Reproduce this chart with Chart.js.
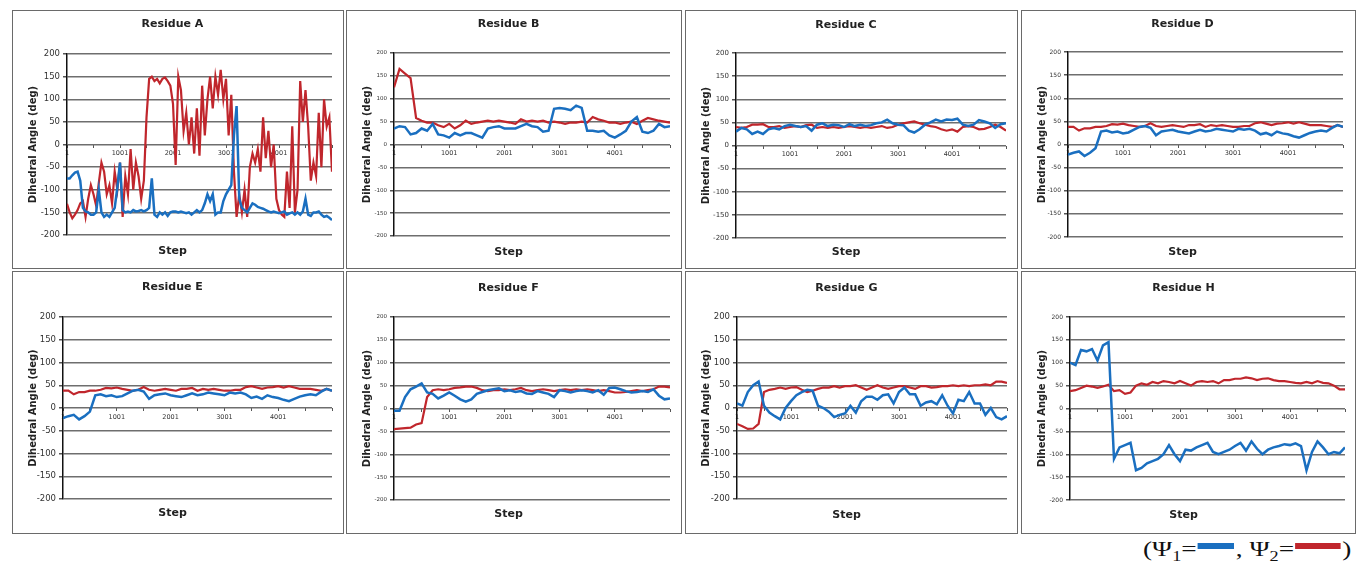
<!DOCTYPE html>
<html>
<head>
<meta charset="utf-8">
<title>Dihedral angles per residue</title>
<script src="https://cdn.jsdelivr.net/npm/chart.js@4.4.0/dist/chart.umd.min.js"></script>
<style>
    body {
        margin: 0;
        width: 1356px;
        height: 564px;
        position: relative;
        overflow: hidden;
        background: #fff;
        font-family: 'DejaVu Sans', sans-serif;
    }
    .panel {
        position: absolute;
        border: 1px solid #6a6a6a;
        background: #fff;
    }
    .panel canvas { display: block; }
    #key {
        position: absolute;
        left: 1143px;
        top: 537px;
        font-family: 'Liberation Serif', serif;
        font-size: 21px;
        line-height: 24px;
        color: #111;
        white-space: nowrap;
        transform: scaleX(1.3);
        transform-origin: left top;
    }
    #key sub { font-size: 14px; }
    .swatch {
        display: inline-block;
        height: 6px;
        position: relative;
        top: -7px;
        margin: 0 1px;
    }
</style>
</head>
<body>
<div id="key">(Ψ<sub>1</sub>=<span class="swatch" style="background:#1a6fc0;width:28px"></span>, Ψ<sub>2</sub>=<span class="swatch" style="background:#c0262c;width:35px"></span>)</div>

<script>
const psi1A = [-75, -75, -68, -62, -60, -80, -140, -148, -150, -155, -155, -150, -100, -150, -160, -155, -160, -150, -140, -95,
    -40, -145, -150, -148, -150, -145, -148, -147, -145, -148, -145, -140, -75, -155, -160, -150, -155, -150, -158, -150,
    -148, -148, -150, -148, -150, -152, -150, -155, -150, -145, -150, -145, -130, -110, -125, -110, -155, -150, -150, -125,
    -110, -100, -90, 20, 85, -120, -140, -145, -150, -140, -130, -133, -138, -140, -142, -145, -148, -150, -148, -150,
    -152, -150, -148, -155, -152, -150, -155, -150, -155, -148, -120, -155, -158, -150, -150, -148, -155, -160, -158, -162, -167];
const psi2A = [-131, -150, -163, -155, -145, -130, -125, -160, -120, -90, -110, -135, -85, -40, -60, -110, -90, -130, -60, -100,
    -40, -160, -70, -110, -10, -100, -40, -70, -120, -80, 60, 145, 150, 140, 145, 135, 145, 148, 140, 130,
    90, -45, 150, 120, 30, 70, 0, 60, -20, 80, -25, 130, 20, 100, 150, 80, 150, 110, 165, 100,
    145, 20, 110, -60, -160, -110, -150, -100, -160, -50, -20, -40, -10, -60, 60, -30, 30, -50, 0, -120,
    -145, -155, -160, -60, -140, 40, -150, -100, 140, 50, 120, 40, -80, -40, -70, 70, -50, 100, 40, 60, -60];

const psi1B = [35, 40, 38, 22, 25, 35, 30, 45, 22, 20, 15, 25, 20, 25, 25, 20, 15, 35, 38, 40,
    35, 35, 35, 40, 45, 40, 38, 28, 30, 78, 80, 78, 75, 85, 80, 30, 30, 28, 30, 20,
    15, 22, 30, 50, 60, 28, 25, 30, 45, 38, 40];
const psi2B = [125, 165, 155, 145, 58, 52, 48, 48, 42, 38, 45, 35, 42, 52, 45, 48, 50, 52, 50, 52,
    50, 48, 45, 55, 50, 52, 50, 52, 48, 50, 48, 45, 48, 48, 50, 48, 60, 55, 52, 48,
    48, 45, 48, 50, 45, 52, 58, 55, 52, 50, 48];

const psi1C = [30, 38, 35, 25, 30, 25, 35, 38, 35, 42, 45, 42, 40, 42, 32, 45, 48, 42, 45, 44,
    40, 46, 42, 45, 42, 44, 48, 50, 56, 48, 45, 44, 32, 28, 35, 45, 50, 56, 52, 56,
    55, 58, 45, 42, 45, 55, 52, 48, 38, 46, 48];
const psi2C = [40, 38, 40, 45, 45, 46, 40, 40, 42, 38, 40, 42, 40, 44, 45, 38, 40, 38, 40, 38,
    40, 42, 40, 38, 40, 38, 40, 42, 38, 40, 45, 48, 50, 52, 48, 45, 42, 40, 35, 32,
    35, 30, 40, 42, 40, 35, 36, 40, 45, 40, 32];

const psi1D = [-22, -18, -15, -25, -18, -8, 28, 30, 26, 28, 24, 26, 32, 38, 40, 36, 20, 28, 30, 32,
    28, 26, 24, 28, 32, 28, 30, 34, 32, 30, 28, 34, 32, 34, 30, 22, 25, 20, 28, 24,
    22, 18, 15, 20, 25, 28, 30, 28, 36, 42, 38];
const psi2D = [38, 38, 30, 35, 35, 38, 38, 40, 44, 43, 45, 42, 40, 38, 40, 46, 40, 38, 40, 42,
    40, 38, 42, 42, 44, 38, 42, 40, 42, 40, 38, 38, 40, 40, 46, 48, 45, 42, 45, 46,
    48, 45, 48, 45, 42, 42, 42, 40, 38, 42, 38];

const psi1E = [-22, -18, -15, -25, -18, -8, 28, 30, 26, 28, 24, 26, 32, 38, 40, 36, 20, 28, 30, 32,
    28, 26, 24, 28, 32, 28, 30, 34, 32, 30, 28, 34, 32, 34, 30, 22, 25, 20, 28, 24,
    22, 18, 15, 20, 25, 28, 30, 28, 36, 42, 38];
const psi2E = [38, 38, 30, 35, 35, 38, 38, 40, 44, 43, 45, 42, 40, 38, 40, 46, 40, 38, 40, 42,
    40, 38, 42, 42, 44, 38, 42, 40, 42, 40, 38, 38, 40, 40, 46, 48, 45, 42, 45, 46,
    48, 45, 48, 45, 42, 42, 42, 40, 38, 42, 38];

const psi1F = [-5, -5, 25, 42, 48, 55, 35, 32, 22, 28, 35, 28, 20, 15, 20, 32, 36, 40, 42, 44,
    38, 40, 36, 38, 33, 32, 38, 35, 32, 25, 40, 38, 35, 38, 40, 38, 35, 40, 30, 45,
    46, 42, 38, 35, 36, 38, 36, 42, 28, 20, 22];
const psi2F = [-45, -44, -43, -42, -35, -32, 25, 40, 42, 40, 42, 45, 46, 48, 48, 45, 40, 38, 40, 40,
    42, 40, 42, 45, 40, 38, 40, 42, 40, 38, 40, 42, 40, 42, 40, 42, 40, 38, 40, 38,
    35, 35, 36, 38, 40, 38, 40, 42, 48, 48, 46];

const psi1G = [10, 5, 35, 50, 58, 5, -10, -18, -25, 0, 15, 28, 35, 40, 38, 5, 0, -8, -20, -15,
    -12, 5, -10, 15, 25, 25, 18, 28, 30, 10, 35, 45, 30, 30, 5, 12, 15, 8, 28, 5,
    -12, 18, 15, 35, 10, 10, -15, 0, -20, -25, -18];
const psi2G = [-35, -40, -46, -45, -35, 35, 40, 42, 45, 42, 45, 46, 40, 35, 38, 42, 45, 45, 48, 45,
    48, 48, 50, 45, 40, 45, 50, 45, 42, 45, 48, 48, 45, 42, 48, 48, 45, 46, 48, 48,
    50, 48, 50, 48, 50, 50, 52, 50, 58, 58, 55];

const psi1H = [100, 95, 128, 125, 130, 105, 138, 145, -110, -85, -80, -75, -135, -130, -120, -115, -110, -100, -80, -100,
    -115, -90, -92, -85, -80, -75, -95, -100, -95, -90, -82, -75, -92, -72, -88, -100, -90, -85, -82, -78,
    -80, -76, -82, -135, -95, -72, -85, -100, -95, -98, -85];
const psi2H = [38, 40, 45, 50, 48, 45, 48, 52, 38, 40, 32, 35, 50, 55, 52, 58, 55, 60, 58, 55,
    60, 55, 50, 58, 60, 58, 60, 55, 62, 62, 65, 65, 68, 66, 62, 65, 66, 62, 60, 60,
    58, 56, 55, 58, 55, 60, 56, 55, 50, 42, 42];

const yTicks = [-200, -150, -100, -50, 0, 50, 100, 150, 200];
const xTickSteps = [1, 501, 1001, 1501, 2001, 2501, 3001, 3501, 4001, 4501, 5001];
const xLabelSteps = [1, 1001, 2001, 3001, 4001];
const firstStep = 1;
const lastStep = 5001;

const PSI1_COLOR = '#1a6fc0';
const PSI2_COLOR = '#c0262c';
const FONT = "'DejaVu Sans', sans-serif";

// box = outer [left, top, width, height]; plot = [left, top, right, bottom] relative to canvas
// titleY / stepY = text centre relative to canvas
const panels = [
    { title: 'Residue A', psi1: psi1A, psi2: psi2A, box: [12, 10, 332, 259], plot: [54, 43, 319, 224], titleY: 13, stepY: 240, tick: 8.5 },
    { title: 'Residue B', psi1: psi1B, psi2: psi2B, box: [346, 10, 336, 259], plot: [47, 42, 323, 225], titleY: 13, stepY: 241, tick: 5.5 },
    { title: 'Residue C', psi1: psi1C, psi2: psi2C, box: [685, 10, 333, 259], plot: [50, 42, 320, 227], titleY: 14, stepY: 241, tick: 7 },
    { title: 'Residue D', psi1: psi1D, psi2: psi2D, box: [1021, 10, 335, 259], plot: [46, 41, 321, 226], titleY: 13, stepY: 241, tick: 6 },
    { title: 'Residue E', psi1: psi1E, psi2: psi2E, box: [12, 271, 332, 263], plot: [50, 45, 319, 227], titleY: 15, stepY: 241, tick: 8.5 },
    { title: 'Residue F', psi1: psi1F, psi2: psi2F, box: [346, 271, 336, 263], plot: [47, 45, 323, 228], titleY: 16, stepY: 242, tick: 5.5 },
    { title: 'Residue G', psi1: psi1G, psi2: psi2G, box: [685, 271, 333, 263], plot: [51, 45, 321, 227], titleY: 16, stepY: 243, tick: 8.5 },
    { title: 'Residue H', psi1: psi1H, psi2: psi2H, box: [1021, 271, 335, 263], plot: [48, 45, 323, 228], titleY: 16, stepY: 243, tick: 6 }
];

// spread the samples evenly over the step range
function stepsFor(values) {
    const n = values.length;
    return values.map((v, i) => firstStep + Math.round(i * (lastStep - firstStep) / (n - 1)));
}

function toPoints(values) {
    const steps = stepsFor(values);
    return values.map((v, i) => ({ x: steps[i], y: v }));
}

panels.forEach(function (p) {
    const [bx, by, bw, bh] = p.box;
    const w = bw - 2, h = bh - 2;
    const div = document.createElement('div');
    div.className = 'panel';
    div.style.left = bx + 'px';
    div.style.top = by + 'px';
    div.style.width = w + 'px';
    div.style.height = h + 'px';
    const canvas = document.createElement('canvas');
    canvas.width = w;
    canvas.height = h;
    div.appendChild(canvas);
    document.body.appendChild(div);

    const [pl, pt, pr, pb] = p.plot;
    const titleLH = 11 * 1.2;
    const titleTop = p.titleY - titleLH / 2;
    const stepTop = p.stepY - titleLH / 2 - pb;
    const stepBottom = (h - pb) - stepTop - titleLH;

    new Chart(canvas.getContext('2d'), {
        type: 'line',
        data: {
            datasets: [
                { label: 'Ψ1', data: toPoints(p.psi1), borderColor: PSI1_COLOR, borderWidth: 2.5, pointRadius: 0, tension: 0 },
                { label: 'Ψ2', data: toPoints(p.psi2), borderColor: PSI2_COLOR, borderWidth: 2.2, pointRadius: 0, tension: 0 }
            ]
        },
        options: {
            responsive: false,
            animation: false,
            events: [],
            layout: { padding: { left: 0, top: 0, right: w - pr, bottom: 0 } },
            plugins: {
                legend: { display: false },
                tooltip: { enabled: false },
                title: {
                    display: true,
                    text: p.title,
                    color: '#222',
                    font: { family: FONT, size: 11, weight: 'bold', lineHeight: 1.2 },
                    padding: { top: titleTop, bottom: pt - titleTop - titleLH }
                },
                subtitle: {
                    display: true,
                    text: 'Step',
                    position: 'bottom',
                    color: '#222',
                    font: { family: FONT, size: 11, weight: 'bold', lineHeight: 1.2 },
                    padding: { top: stepTop, bottom: stepBottom }
                }
            },
            scales: {
                x: { type: 'linear', min: firstStep, max: lastStep, display: false },
                x2: {
                    type: 'linear',
                    position: { y: 0 },
                    min: firstStep,
                    max: lastStep,
                    afterFit: function (s) { s.height = 0; },
                    afterBuildTicks: function (s) { s.ticks = xTickSteps.map(v => ({ value: v })); },
                    ticks: {
                        autoSkip: false,
                        maxRotation: 0,
                        padding: 2,
                        color: '#333',
                        font: { family: FONT, size: 6.5 },
                        callback: v => xLabelSteps.includes(v) ? String(v) : ''
                    },
                    grid: { drawOnChartArea: false, drawTicks: true, tickLength: 3, color: '#555', lineWidth: 1 },
                    border: { display: false }
                },
                y: {
                    min: -200,
                    max: 200,
                    afterFit: function (s) { s.width = pl; },
                    afterBuildTicks: function (s) { s.ticks = yTicks.map(v => ({ value: v })); },
                    ticks: { color: '#333', padding: 3, font: { family: FONT, size: p.tick } },
                    grid: { color: '#6e6e6e', lineWidth: 1.5, tickLength: 4, tickColor: '#555' },
                    border: { display: true, color: '#111', width: 1.5 },
                    title: {
                        display: true,
                        text: 'Dihedral Angle (deg)',
                        color: '#222',
                        font: { family: FONT, size: 10, weight: 'bold', lineHeight: 1.2 },
                        padding: { top: 14, bottom: 0 }
                    }
                }
            }
        }
    });
});
</script>
</body>
</html>
